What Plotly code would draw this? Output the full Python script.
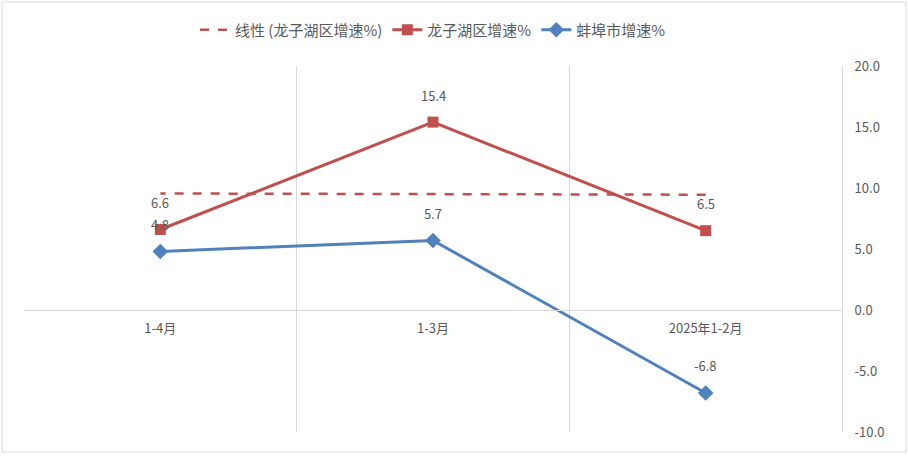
import plotly.graph_objects as go

# 月份（图中从右往左排列）
months = ["2025年1-2月", "1-3月", "1-4月"]
bengbu = [-6.8, 5.7, 4.8]        # 蚌埠市增速%
longzihu = [6.5, 15.4, 6.6]      # 龙子湖区增速%
trend = [9.45, 9.5, 9.55]        # 线性 (龙子湖区增速%)

y_ticks = [-10, -5, 0, 5, 10, 15, 20]
y_tick_text = ["-10.0", "-5.0", "0.0", "5.0", "10.0", "15.0", "20.0"]

grey = "#595959"
line_grey = "#D9D9D9"
blue = "#4F81BD"
red = "#C0504D"
font_family = "Noto Sans CJK SC, Noto Sans, sans-serif"

fig = go.Figure()

fig.add_trace(go.Scatter(
    x=months, y=trend, name="线性 (龙子湖区增速%)", mode="lines",
    line=dict(color=red, width=2.5, dash="dash"), hoverinfo="skip"))

fig.add_trace(go.Scatter(
    x=months, y=longzihu, name="龙子湖区增速%", mode="lines+markers",
    line=dict(color=red, width=3),
    marker=dict(symbol="square", size=11, color=red)))

fig.add_trace(go.Scatter(
    x=months, y=bengbu, name="蚌埠市增速%", mode="lines+markers",
    line=dict(color=blue, width=3),
    marker=dict(symbol="diamond", size=12, color=blue)))

# 数据标签，放在点的上方
labels = []
for series in (longzihu, bengbu):
    for m, v in zip(months, series):
        labels.append(dict(x=m, y=v, xref="x", yref="y", text=f"{v:.1f}",
                           showarrow=False, yshift=27,
                           font=dict(size=13, color=grey)))

W, H = 908, 456
ml, mr, mt, mb = 24, 66, 66, 24
pw, ph = W - ml - mr, H - mt - mb

fig.update_layout(
    width=W, height=H,
    margin=dict(l=ml, r=mr, t=mt, b=mb),
    paper_bgcolor="white", plot_bgcolor="white",
    font=dict(family=font_family, color=grey, size=13),
    showlegend=True,
    legend=dict(orientation="h", x=0.5, xanchor="center",
                y=1 + 36 / ph, yanchor="middle",
                traceorder="normal", font=dict(size=15, color=grey)),
    annotations=labels,
    # 外框
    shapes=[dict(type="rect", xref="paper", yref="paper",
                 x0=-(ml - 2) / pw, x1=1 + (mr - 2) / pw,
                 y0=-(mb - 4) / ph, y1=1 + (mt - 2) / ph,
                 line=dict(color=line_grey, width=1))],
)

fig.update_xaxes(
    type="category", categoryorder="array", categoryarray=months,
    range=[len(months) - 0.5, -0.5], tickson="boundaries",
    showgrid=True, gridcolor=line_grey, gridwidth=1,
    anchor="free", position=10 / 30,
    showline=True, linecolor=line_grey, linewidth=1,
    ticks="", tickangle=0, tickfont=dict(size=13, color=grey),
    ticklabelstandoff=6)

fig.update_yaxes(
    range=[-10, 20], tickvals=y_ticks, ticktext=y_tick_text,
    side="right", showgrid=False, zeroline=False,
    showline=True, linecolor=line_grey, linewidth=1,
    ticks="", tickfont=dict(size=13, color=grey), ticklabelstandoff=9)

# 去掉页面默认的 8px 边距，让图正好铺满窗口
fig.write_html("out.html", config={"displayModeBar": False},
               post_script="document.body.style.margin='0';")
